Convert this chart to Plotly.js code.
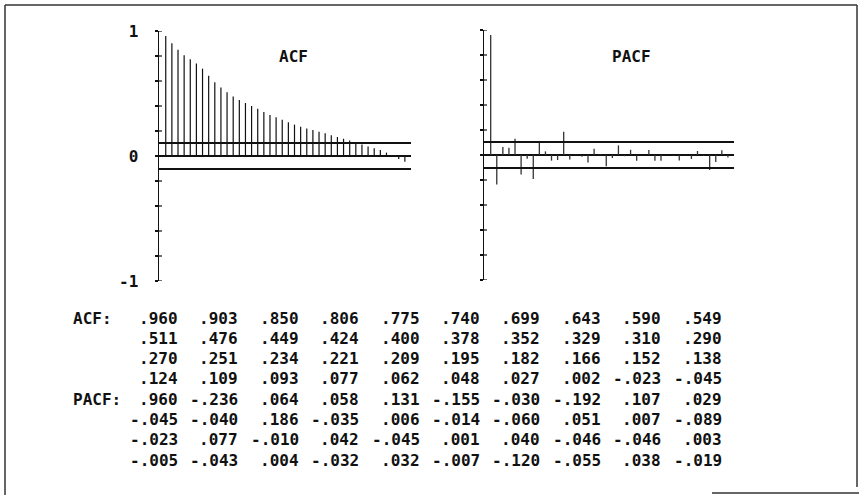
<!DOCTYPE html>
<html>
<head>
<meta charset="utf-8">
<script src="https://cdn.plot.ly/plotly-3.0.1.min.js"></script>
<style>html,body{margin:0;padding:0;background:#fff;}#chart{width:859px;height:495px;}</style>
</head>
<body>
<div id="chart"></div>
<script>
// ---- data ----
const lags = [1,2,3,4,5,6,7,8,9,10,11,12,13,14,15,16,17,18,19,20,
              21,22,23,24,25,26,27,28,29,30,31,32,33,34,35,36,37,38,39,40];
const acf = [0.960,0.903,0.850,0.806,0.775,0.740,0.699,0.643,0.590,0.549,
             0.511,0.476,0.449,0.424,0.400,0.378,0.352,0.329,0.310,0.290,
             0.270,0.251,0.234,0.221,0.209,0.195,0.182,0.166,0.152,0.138,
             0.124,0.109,0.093,0.077,0.062,0.048,0.027,0.002,-0.023,-0.045];
const pacf = [0.960,-0.236,0.064,0.058,0.131,-0.155,-0.030,-0.192,0.107,0.029,
              -0.045,-0.040,0.186,-0.035,0.006,-0.014,-0.060,0.051,0.007,-0.089,
              -0.023,0.077,-0.010,0.042,-0.045,0.001,0.040,-0.046,-0.046,0.003,
              -0.005,-0.043,0.004,-0.032,0.032,-0.007,-0.120,-0.055,0.038,-0.019];
const confBound = [0.104, -0.104];
const yTickVals = [-1,-0.8,-0.6,-0.4,-0.2,0,0.2,0.4,0.6,0.8,1];
const yTickText = ['-1','','','','','0','','','','','1'];
const panelTitles = ['ACF','PACF'];
const rowLabels = ['ACF:','PACF:'];

// ---- helpers ----
const W = 859, H = 495;
const px = v => v / W;
const py = v => 1 - v / H;
const FONT = '"DejaVu Sans Mono", "Liberation Mono", monospace';

function stems(vals) {
  const x = [], y = [];
  vals.forEach((v, i) => { x.push(lags[i], lags[i], null); y.push(0, v, null); });
  return {x, y};
}
function fmt(v) {
  let s = Math.abs(v).toFixed(3).replace(/^0/, '');
  return (v < 0 ? '-' : '') + s;
}

const sA = stems(acf), sP = stems(pacf);
const data = [
  {type:'scatter', mode:'lines', x:sA.x, y:sA.y, xaxis:'x', yaxis:'y',
   line:{color:'#111', width:1.2}, hoverinfo:'skip', showlegend:false},
  {type:'scatter', mode:'lines', x:sP.x, y:sP.y, xaxis:'x2', yaxis:'y2',
   line:{color:'#333', width:1.3}, hoverinfo:'skip', showlegend:false}
];

const xr = [-0.1, 41];
const baseX = {range:xr, showgrid:false, zeroline:false, showline:false,
               showticklabels:false, ticks:'', fixedrange:true};
const baseY = {range:[-1,1], showgrid:false, showline:true, linecolor:'#111', linewidth:1.5,
               zeroline:true, zerolinecolor:'#111', zerolinewidth:2,
               ticks:'outside', ticklen:3, tickwidth:1.2, tickcolor:'#111',
               tickvals:yTickVals, ticktext:yTickText, ticklabelstandoff:13,
               tickfont:{family:FONT, size:16, color:'#111', weight:'bold'}, fixedrange:true};

const shapes = [];
// confidence bands + inner half of crossing ticks
[['x','y',252],['x2','y2',250]].forEach(([xa, ya, wpx]) => {
  confBound.forEach(b => shapes.push({type:'line', xref:xa + ' domain', yref:ya,
    x0:0, x1:1, y0:b, y1:b, line:{color:'#111', width:2}}));
  yTickVals.forEach(t => shapes.push({type:'line', xref:xa + ' domain', yref:ya,
    x0:0, x1:3/wpx, y0:t, y1:t, line:{color:'#111', width:1.2}}));
});
// outer frame
const frame = [[5,5,857,5],[5,5,5,495],[857,5,857,487],[712,493,859,493]];
frame.forEach(f => shapes.push({type:'line', xref:'paper', yref:'paper',
  x0:px(f[0]), y0:py(f[1]), x1:px(f[2]), y1:py(f[3]), line:{color:'#333', width:1.5}}));

const annotations = [];
annotations.push({xref:'paper', yref:'paper', x:px(293), y:py(57), text:panelTitles[0],
  showarrow:false, xanchor:'center', yanchor:'middle', font:{family:FONT, size:16, color:'#111', weight:'bold'}});
annotations.push({xref:'paper', yref:'paper', x:px(631), y:py(57), text:panelTitles[1],
  showarrow:false, xanchor:'center', yanchor:'middle', font:{family:FONT, size:16, color:'#111', weight:'bold'}});

// table
const rowY0 = 318, rowStep = 20.3, colX0 = 180, colStep = 60.4;
[acf, pacf].forEach((vals, t) => {
  annotations.push({xref:'paper', yref:'paper', x:px(71), y:py(rowY0 + t*4*rowStep), text:rowLabels[t],
    showarrow:false, xanchor:'left', yanchor:'middle', font:{family:FONT, size:16, color:'#111', weight:'bold'}});
  vals.forEach((v, i) => {
    const r = t*4 + Math.floor(i/10), c = i % 10;
    annotations.push({xref:'paper', yref:'paper', x:px(colX0 + c*colStep), y:py(rowY0 + r*rowStep),
      text:fmt(v), showarrow:false, xanchor:'right', yanchor:'middle',
      font:{family:FONT, size:16, color:'#111', weight:'bold'}});
  });
});

const layout = {
  width:W, height:H, margin:{l:0, r:0, t:0, b:0},
  paper_bgcolor:'#fff', plot_bgcolor:'rgba(0,0,0,0)', showlegend:false,
  xaxis: Object.assign({}, baseX, {domain:[px(159), px(411)], anchor:'y'}),
  yaxis: Object.assign({}, baseY, {domain:[py(281), py(31)], anchor:'x'}),
  xaxis2: Object.assign({}, baseX, {domain:[px(484), px(734)], anchor:'y2'}),
  yaxis2: Object.assign({}, baseY, {domain:[py(280), py(30)], anchor:'x2', showticklabels:false}),
  shapes, annotations
};

Plotly.newPlot('chart', data, layout, {staticPlot:true, displayModeBar:false});
</script>
</body>
</html>
